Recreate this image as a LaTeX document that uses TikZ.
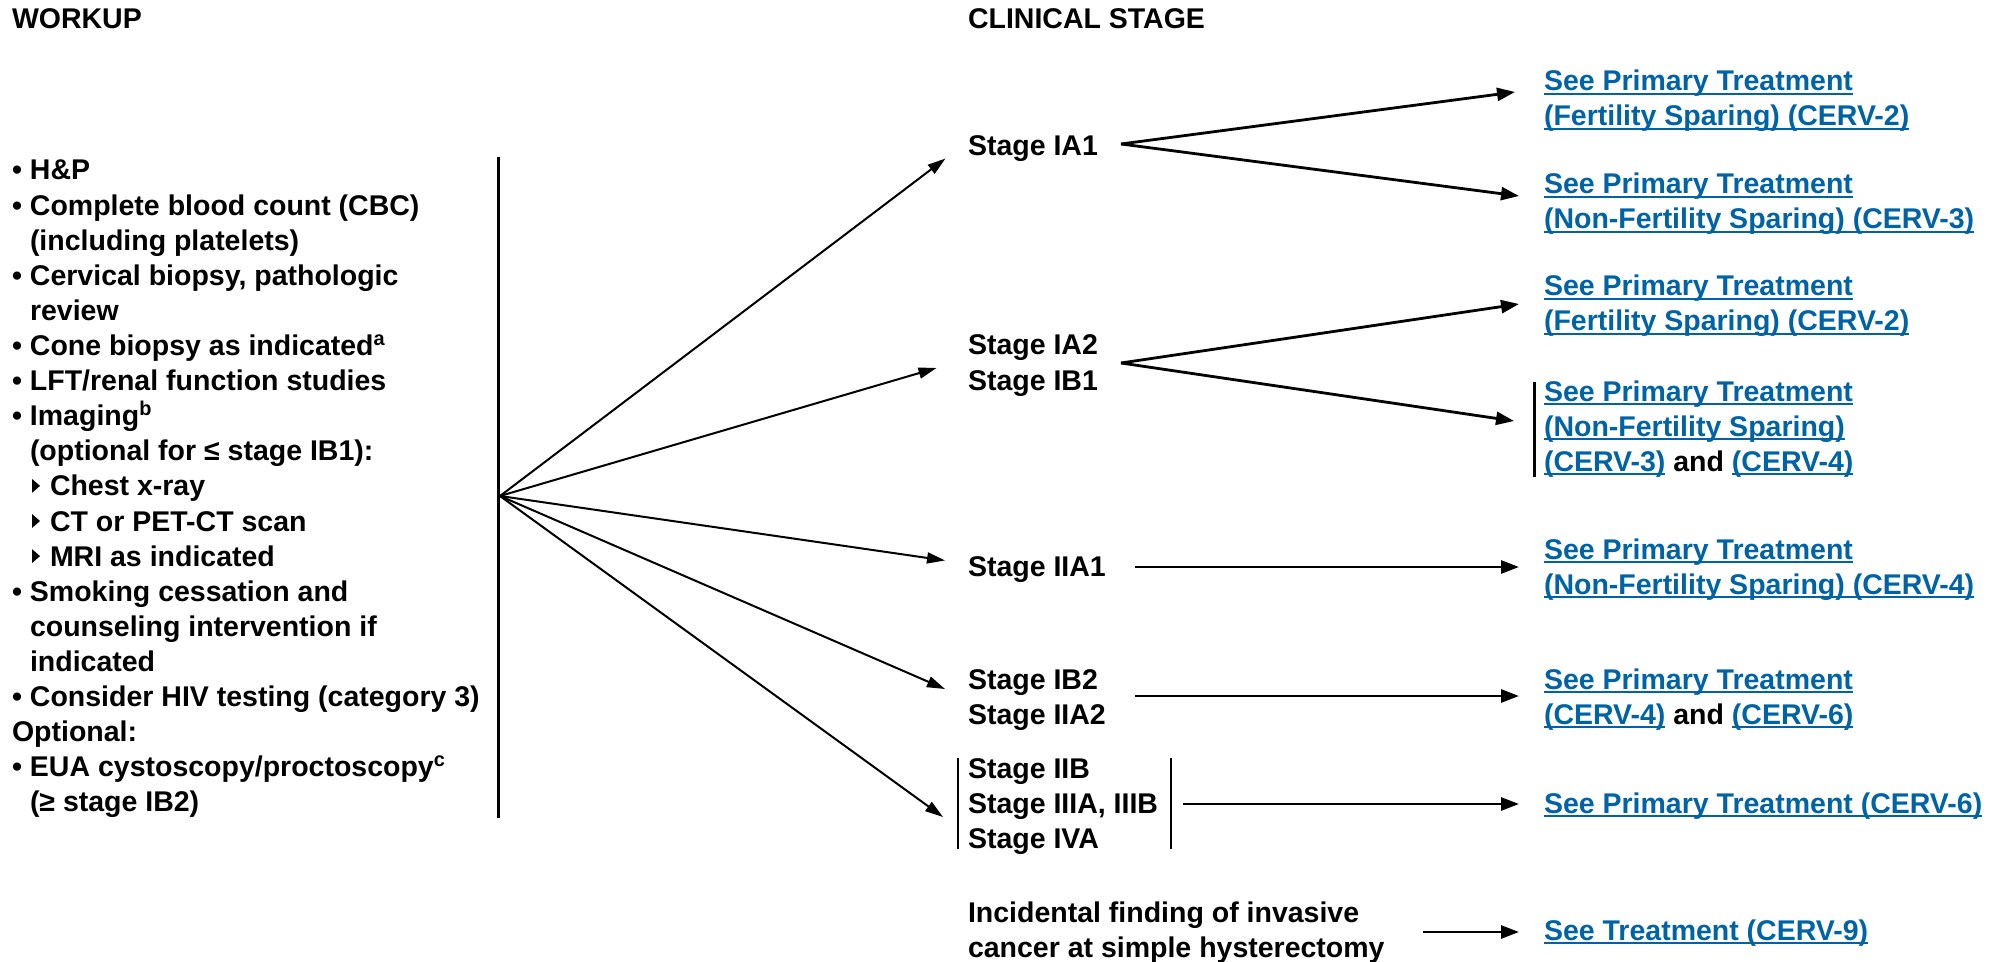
\documentclass[tikz,border=0pt]{standalone}
\usepackage{fontspec}
\setmainfont{Liberation Sans}
\usetikzlibrary{arrows.meta}
\definecolor{lnk}{RGB}{0,99,166}
\newcommand\lk[1]{{\color{lnk}\setbox0=\hbox{#1}\rlap{\rule[-2pt]{\wd0}{1pt}}\box0}}
\newcommand\bul{\makebox[9pt][l]{•}}
\begin{document}
\begin{tikzpicture}[x=0.5pt,y=-0.5pt,
  txt/.style={anchor=base west, inner sep=0pt, outer sep=0pt, font=\fontsize{14.25pt}{17.55pt}\selectfont\bfseries},
  fanarr/.style={line width=1pt, -{Triangle[length=9pt,width=5.5pt]}},
  arr/.style={line width=1.4pt, -{Triangle[length=9pt,width=6.5pt]}},
  barline/.style={line width=1.2pt},
  tri/.style={fill=black}]
\useasboundingbox (0,0) rectangle (2011,962);

% headings
\node[txt] (h1) at (12,29) {WORKUP};
\node[txt] (h2) at (968,29) {CLINICAL STAGE};

% workup list
\node[txt] (l0) at (12,180) {\bul H\&P};
\node[txt] (l1) at (12,215.1) {\bul Complete blood count (CBC)};
\node[txt] (l2) at (30,250.2) {(including platelets)};
\node[txt] (l3) at (12,285.3) {\bul Cervical biopsy, pathologic};
\node[txt] (l4) at (30,320.4) {review};
\node[txt] (l5) at (12,355.5) {\bul Cone biopsy as indicated\textsuperscript{a}};
\node[txt] (l6) at (12,390.6) {\bul LFT/renal function studies};
\node[txt] (l7) at (12,425.7) {\bul Imaging\textsuperscript{b}};
\node[txt] (l8) at (30,460.8) {(optional for ≤ stage IB1):};
\node[txt] (l9) at (50,495.9) {Chest x-ray};
\node[txt] (l10) at (50,531) {CT or PET-CT scan};
\node[txt] (l11) at (50,566.1) {MRI as indicated};
\node[txt] (l12) at (12,601.2) {\bul Smoking cessation and};
\node[txt] (l13) at (30,636.3) {counseling intervention if};
\node[txt] (l14) at (30,671.4) {indicated};
\node[txt] (l15) at (12,706.5) {\bul Consider HIV testing (category 3)};
\node[txt] (l16) at (12,741.6) {Optional:};
\node[txt] (l17) at (12,776.7) {\bul EUA cystoscopy/proctoscopy\textsuperscript{c}};
\node[txt] (l18) at (30,811.8) {(≥ stage IB2)};

% sub-bullet triangles
\foreach \b in {495.9,531,566.1}{
  \fill[tri] (32,\b-17) -- (32,\b-3) -- (40,\b-10) -- cycle;
}

% vertical line and fan
\coordinate (vt) at (498,157);
\coordinate (vb) at (498,818);
\draw[line width=1.5pt] (vt) -- (vb);
\coordinate (fan) at (500,496);
\coordinate (f1) at (945.5,158.5);
\coordinate (f2) at (936.5,368);
\coordinate (f3) at (945,560.5);
\coordinate (f4) at (945,689);
\coordinate (f5) at (943,817);
\foreach \t in {f1,f2,f3,f4,f5}{\draw[fanarr] (fan) -- (\t);}

% stages
\node[txt] (st1) at (968,156) {Stage IA1};
\node[txt] (st2a) at (968,355) {Stage IA2};
\node[txt] (st2b) at (968,390) {Stage IB1};
\node[txt] (st3) at (968,576) {Stage IIA1};
\node[txt] (st4a) at (968,689) {Stage IB2};
\node[txt] (st4b) at (968,724) {Stage IIA2};
\node[txt] (st5a) at (968,778) {Stage IIB};
\node[txt] (st5b) at (968,813) {Stage IIIA, IIIB};
\node[txt] (st5c) at (968,848) {Stage IVA};
\node[txt] (st6a) at (968,922) {Incidental finding of invasive};
\node[txt] (st6b) at (968,957) {cancer at simple hysterectomy};

% brackets
\coordinate (b1t) at (958,758); \coordinate (b1b) at (958,849);
\coordinate (b2t) at (1171,758); \coordinate (b2b) at (1171,849);
\coordinate (b3t) at (1534.5,382); \coordinate (b3b) at (1534.5,477);
\draw[barline] (b1t) -- (b1b);
\draw[barline] (b2t) -- (b2b);
\draw[barline] (b3t) -- (b3b);

% treatments
\node[txt] (tr1a) at (1544,91) {\lk{See Primary Treatment}};
\node[txt] (tr1b) at (1544,126) {\lk{(Fertility Sparing) (CERV-2)}};
\node[txt] (tr2a) at (1544,194) {\lk{See Primary Treatment}};
\node[txt] (tr2b) at (1544,229) {\lk{(Non-Fertility Sparing) (CERV-3)}};
\node[txt] (tr3a) at (1544,296) {\lk{See Primary Treatment}};
\node[txt] (tr3b) at (1544,331) {\lk{(Fertility Sparing) (CERV-2)}};
\node[txt] (tr4a) at (1544,401) {\lk{See Primary Treatment}};
\node[txt] (tr4b) at (1544,436) {\lk{(Non-Fertility Sparing)}};
\node[txt] (tr4c) at (1544,471) {\lk{(CERV-3)} and \lk{(CERV-4)}};
\node[txt] (tr5a) at (1544,559) {\lk{See Primary Treatment}};
\node[txt] (tr5b) at (1544,594) {\lk{(Non-Fertility Sparing) (CERV-4)}};
\node[txt] (tr6a) at (1544,689) {\lk{See Primary Treatment}};
\node[txt] (tr6b) at (1544,724) {\lk{(CERV-4)} and \lk{(CERV-6)}};
\node[txt] (tr7) at (1544,813) {\lk{See Primary Treatment (CERV-6)}};
\node[txt] (tr8) at (1544,940) {\lk{See Treatment (CERV-9)}};

% stage -> treatment arrows
\coordinate (o1) at (1121,144);
\coordinate (a1) at (1515,92);
\coordinate (a2) at (1519,196);
\coordinate (o2) at (1121,363);
\coordinate (a3) at (1519,304);
\coordinate (a4) at (1514,421);
\coordinate (o3) at (1135,567);
\coordinate (a5) at (1519,567);
\coordinate (o4) at (1135,696);
\coordinate (a6) at (1519,696);
\coordinate (o5) at (1183,804);
\coordinate (a7) at (1519,804);
\coordinate (o6) at (1423,932);
\coordinate (a8) at (1519,932);
\draw[arr] (o1) -- (a1);
\draw[arr] (o1) -- (a2);
\draw[arr] (o2) -- (a3);
\draw[arr] (o2) -- (a4);
\draw[arr] (o3) -- (a5);
\draw[arr] (o4) -- (a6);
\draw[arr] (o5) -- (a7);
\draw[arr] (o6) -- (a8);
\end{tikzpicture}
\end{document}
